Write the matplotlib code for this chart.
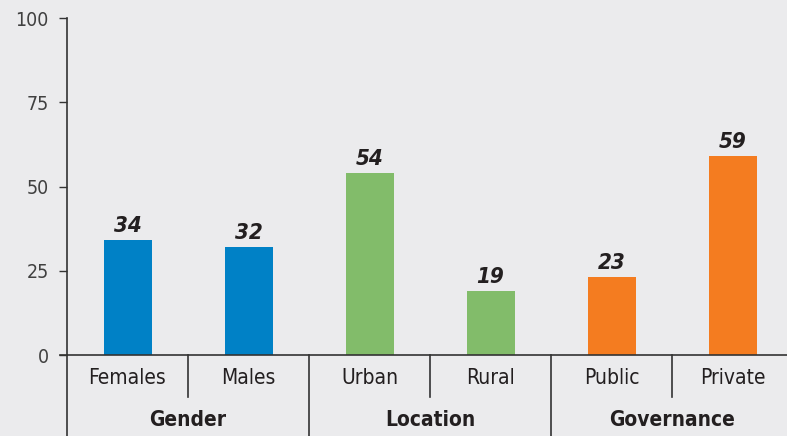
import matplotlib
matplotlib.use("Agg")
import matplotlib.pyplot as plt

categories = ["Females", "Males", "Urban", "Rural", "Public", "Private"]
values = [34, 32, 54, 19, 23, 59]
groups = ["Gender", "Location", "Governance"]
group_colors = ["#0081C6", "#82BC6A", "#F47C20"]
y_ticks = [0, 25, 50, 75, 100]

plt.rcParams["font.family"] = ["DejaVu Sans"]
plt.rcParams["font.stretch"] = "condensed"
text_color = "#231F20"
bg = "#EBEBED"

fig = plt.figure(figsize=(7.87, 4.36), dpi=100, facecolor=bg)
W, H = 787, 436
left_px, right_px, top_px, bottom_px = 67, 787, 18, 355
ax = fig.add_axes([left_px / W, (H - bottom_px) / H,
                   (right_px - left_px) / W, (bottom_px - top_px) / H])
ax.set_facecolor(bg)

step_px = 121
x = list(range(len(categories)))
colors = [group_colors[i // 2] for i in x]
ax.bar(x, values, width=48 / step_px, color=colors, zorder=2)
ax.set_xlim(-0.5, -0.5 + (right_px - left_px) / step_px)
ax.set_ylim(0, 100)

for xi, v in zip(x, values):
    ax.annotate(str(v), (xi, v), xytext=(0, 3), textcoords="offset points",
                ha="center", va="bottom", fontsize=16, fontweight="bold",
                fontstyle="italic", color=text_color)

ax.set_yticks(y_ticks)
ax.tick_params(axis="y", length=6, width=1, colors="#333333", labelsize=14, pad=7)
for lab in ax.get_yticklabels():
    lab.set_color("#404040")
ax.set_xticks([])
for s in ["top", "right"]:
    ax.spines[s].set_visible(False)
for s in ["left", "bottom"]:
    ax.spines[s].set_color("#333333")
    ax.spines[s].set_linewidth(1.2)
ax.spines["bottom"].set_bounds(-0.5 - 7 / step_px, 6)

axh = bottom_px - top_px
trans = ax.get_xaxis_transform()
for xi, name in zip(x, categories):
    ax.text(xi, -23 / axh, name, transform=trans, ha="center", va="center",
            fontsize=15, color=text_color)
for gi, name in enumerate(groups):
    ax.text(2 * gi + 0.5, -65 / axh, name, transform=trans, ha="center",
            va="center", fontsize=15, fontweight="bold", color=text_color)
    # long separator at group start, short one between the pair
    ax.plot([2 * gi - 0.5, 2 * gi - 0.5], [0, -81 / axh], transform=trans,
            color="#333333", lw=1.2, clip_on=False)
    ax.plot([2 * gi + 0.5, 2 * gi + 0.5], [0, -42 / axh], transform=trans,
            color="#333333", lw=1.2, clip_on=False)

fig.savefig("out.png", dpi=100, facecolor=bg)
